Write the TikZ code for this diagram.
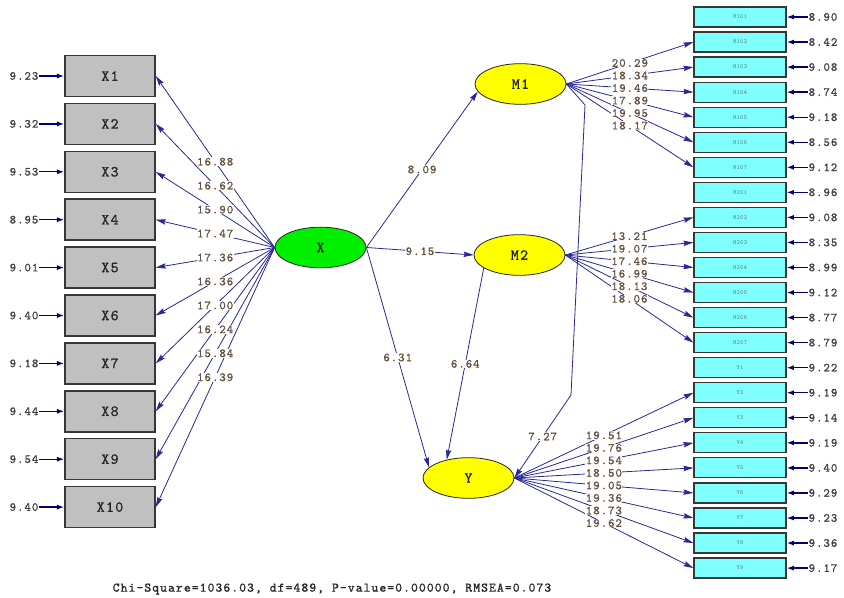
\documentclass[tikz,border=0pt]{standalone}
\usepackage{fontspec}
\newfontfamily\lisfont[LetterSpace=6]{lmmono10-regular.otf}
\newfontfamily\lisbold[LetterSpace=8,FakeBold=1]{lmmono10-regular.otf}
\usetikzlibrary{shapes.geometric,arrows.meta}
\definecolor{pathblue}{RGB}{40,40,150}
\definecolor{errblue}{RGB}{0,0,120}
\definecolor{numcol}{RGB}{100,80,65}
\definecolor{boxgray}{RGB}{192,192,192}
\definecolor{boxcyan}{RGB}{128,255,255}
\definecolor{latgreen}{RGB}{0,240,0}
\definecolor{latyellow}{RGB}{255,255,0}
\definecolor{borddark}{RGB}{55,55,55}
\definecolor{tinytext}{RGB}{80,115,115}
\begin{document}
\begin{tikzpicture}[x=0.75pt,y=-0.75pt,
  xbox/.style={draw=borddark, line width=1.1pt, fill=boxgray, minimum width=67.5pt, minimum height=30.75pt, inner sep=0pt, text=black!85, font=\fontsize{11.5}{12}\lisbold},
  ibox/.style={draw=borddark, line width=0.9pt, fill=boxcyan, minimum width=69pt, minimum height=15pt, inner sep=0pt, text=tinytext, font=\fontsize{4.6}{5}\lisfont},
  lat/.style={ellipse, draw=black!85, line width=0.6pt, minimum width=68.25pt, minimum height=30.5pt, inner sep=0pt, text=black!85, font=\fontsize{11.5}{12}\lisbold},
  pth/.style={draw=pathblue, line width=0.6pt, -{Stealth[length=7.5pt,width=4pt,inset=1pt]}},
  err/.style={draw=errblue, line width=1pt, -{Latex[length=5.5pt,width=3.8pt]}},
  num/.style={fill=white, inner sep=0.3pt, text=numcol, font=\fontsize{9.2}{9}\lisbold},
  errnum/.style={inner sep=0.5pt, text=black!75, font=\fontsize{9.2}{9}\lisbold}
]
\useasboundingbox (0,0) rectangle (844,598);

% latent variables
\node[lat, fill=latgreen] (xl) at (320.5,247.5) {X};
\node[lat, fill=latyellow] (m1) at (520.5,84) {M1};
\node[lat, fill=latyellow] (m2) at (519.5,255) {M2};
\node[lat, fill=latyellow] (yl) at (468.5,478) {Y};

% X indicators
\foreach \e [count=\i] in {9.23,9.32,9.53,8.95,9.01,9.40,9.18,9.44,9.54,9.40}{
  \node[xbox] (x\i) at (110,{76+47.9*(\i-1)}) {X\i};
  \node[errnum] (ex\i) at (24,{76+47.9*(\i-1)}) {\e};
  \draw[err] (ex\i.east) -- (x\i.west);
}

% right indicators
\foreach \n/\e [count=\k from 0] in {M101/8.90,M102/8.42,M103/9.08,M104/8.74,M105/9.18,M106/8.56,M107/9.12,
  M201/8.96,M202/9.08,M203/8.35,M204/8.99,M205/9.12,M206/8.77,M207/8.79,
  Y1/9.22,Y2/9.19,Y3/9.14,Y4/9.19,Y5/9.40,Y6/9.29,Y7/9.23,Y8/9.36,Y9/9.17}{
  \node[ibox] (r\k) at (740,{17+25.05*\k}) {\n};
  \node[errnum] (er\k) at (823,{17+25.05*\k}) {\e};
  \draw[err] (er\k.west) -- (r\k.east);
}

% loadings lines
\foreach \i in {1,...,10}{\draw[pth] (xl.west) -- coordinate (lx\i) (x\i.east);}
\foreach \i in {1,...,6}{\draw[pth] (m1.east) -- coordinate (lm\i) (r\i.west);}
\foreach \i in {8,...,13}{\draw[pth] (m2.east) -- coordinate (lm\i) (r\i.west);}
\foreach \i in {15,...,22}{\draw[pth] (yl.east) -- coordinate (lm\i) (r\i.west);}

% structural paths
\coordinate (b1) at (585,105);
\coordinate (b2) at (571,395);
\draw[pth] (xl.east) -- coordinate (s1) (m1.190);
\draw[pth] (xl.east) -- coordinate (s2) (m2.west);
\draw[pth] (xl.east) -- coordinate (s3) (yl.165);
\draw[pth] (m2.200) -- coordinate (s4) (yl.140);
\draw[pth] (m1.east) -- (b1) -- (b2) -- coordinate (s5) (yl.east);

% labels
\foreach \v [count=\i] in {16.88,16.62,15.90,17.47,17.36,16.36,17.00,16.24,15.84,16.39}{
  \node[num] (nlx\i) at (lx\i) {\v};}
\foreach \v [count=\i] in {20.29,18.34,19.46,17.89,19.95,18.17}{
  \node[num] (nlm\i) at (lm\i) {\v};}
\foreach \v [count=\i from 8] in {13.21,19.07,17.46,16.99,18.13,18.06}{
  \node[num] (nlm\i) at (lm\i) {\v};}
\foreach \v [count=\i from 15] in {19.51,19.76,19.54,18.50,19.05,19.36,18.73,19.62}{
  \node[num] (nlm\i) at (lm\i) {\v};}
\node[num] (ns1) at (s1) {8.09};
\node[num] (ns2) at (s2) {9.15};
\node[num] (ns3) at (s3) {6.31};
\node[num] (ns4) at (s4) {6.64};
\node[num] (ns5) at (s5) {7.27};

\node[inner sep=0pt, text=black!85, font=\fontsize{9.8}{10}\lisbold] (fit) at (332,589) {Chi-Square=1036.03, df=489, P-value=0.00000, RMSEA=0.073};
\end{tikzpicture}
\end{document}
